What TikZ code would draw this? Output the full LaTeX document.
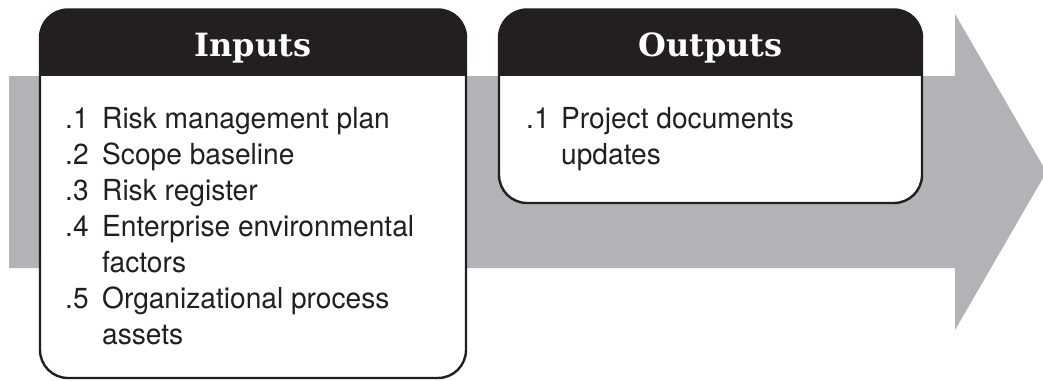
\documentclass[tikz,border=0pt]{standalone}
\usepackage{fontspec}
\setmainfont{TeX Gyre Heros}[FakeStretch=0.97]
\newfontfamily\headfont{DejaVu Serif}
\usepackage{array}
\definecolor{arrowgray}{HTML}{B2B3B6}
\definecolor{headblack}{HTML}{231F20}
\begin{document}
\begin{tikzpicture}[x=1pt,y=-1pt,
  boxborder/.style={draw=headblack,line width=2.4pt,rounded corners=28pt},
  headtext/.style={text=white,font=\headfont\bfseries\fontsize{32}{36}\selectfont,anchor=base,inner sep=0pt},
  listtext/.style={text=headblack,font=\fontsize{29}{36}\selectfont,anchor=north west,inner sep=0pt,align=left}]
\useasboundingbox (0,0) rectangle (1043,380);
% big arrow
\fill[arrowgray] (9,76) -- (955,76) -- (955,14) -- (1043,166) -- (1043,178) -- (955,330) -- (955,268) -- (9,268) -- cycle;
% inputs box
\fill[white,rounded corners=28pt] (40,9.5) rectangle (466,378);
\begin{scope}
\clip[rounded corners=28pt] (40,9.5) rectangle (466,378);
\fill[headblack] (40,9.5) rectangle (466,76);
\end{scope}
\draw[boxborder] (40,9.5) rectangle (466,378);
% outputs box
\fill[white,rounded corners=28pt] (499,9.5) rectangle (922,203);
\begin{scope}
\clip[rounded corners=28pt] (499,9.5) rectangle (922,203);
\fill[headblack] (499,9.5) rectangle (922,76);
\end{scope}
\draw[boxborder] (499,9.5) rectangle (922,203);
% headers
\node[headtext] (inhead) at (253,56) {Inputs};
\node[headtext] (outhead) at (710.5,56) {Outputs};
% lists
\node[listtext] (inlist) at (65,103) {\begin{tabular}{@{}p{37pt}@{}l@{}}
.1 & Risk management plan\\
.2 & Scope baseline\\
.3 & Risk register\\
.4 & Enterprise environmental\\
   & factors\\
.5 & Organizational process\\
   & assets
\end{tabular}};
\node[listtext] (outlist) at (526,103) {\begin{tabular}{@{}p{35pt}@{}l@{}}
.1 & Project documents\\
   & updates
\end{tabular}};
\end{tikzpicture}
\end{document}
